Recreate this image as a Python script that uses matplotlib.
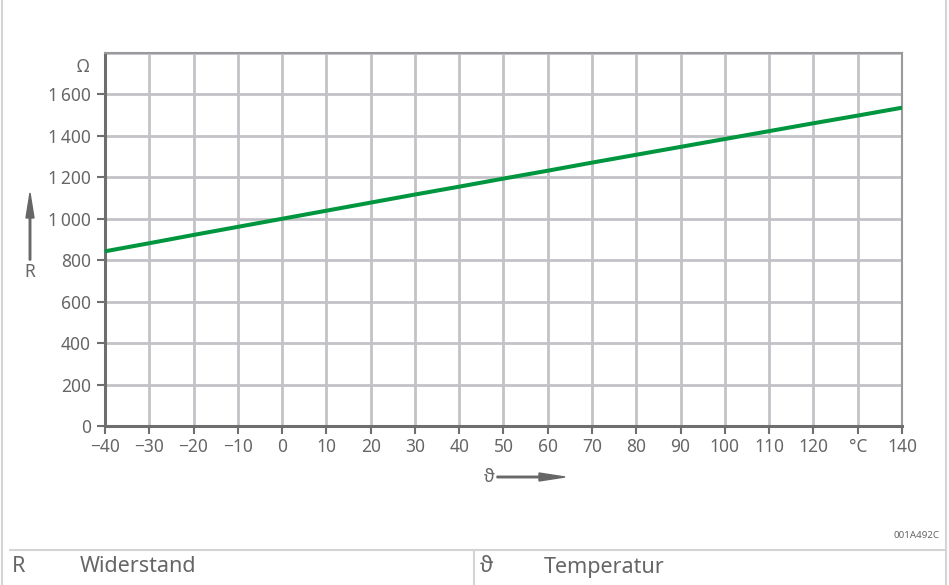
import numpy as np
import matplotlib
matplotlib.use("Agg")
import matplotlib.pyplot as plt

plt.rcParams['font.family'] = ['Noto Sans', 'DejaVu Sans']

# temperature (°C) and resistance (Ohm)
temp = [-40, -30, -20, -10, 0, 10, 20, 30, 40, 50, 60, 70, 80, 90, 100, 110, 120, 130, 140]
resistance = [843, 882, 922, 961, 1000, 1039, 1078, 1117, 1155, 1194, 1232, 1271,
              1309, 1347, 1385, 1423, 1461, 1498, 1536]

xticks = list(range(-40, 141, 10))
xlabels = [("\u2212%d" % -t if t < 0 else str(t)) for t in xticks]
xlabels[xticks.index(130)] = "°C"
yticks = list(range(0, 1601, 200))
ylabels = ["{:,}".format(v).replace(",", "\u2009") for v in yticks]

W, H = 949, 585
fig = plt.figure(figsize=(W / 100, H / 100), dpi=100)

grid_c = "#c3c3c7"
axis_c = "#6e6e6e"
text_c = "#666666"
tick_fs = 12.5

ax = fig.add_axes([105 / W, (H - 426) / H, 797 / W, (426 - 53) / H])
ax.set_xlim(-40, 140)
ax.set_ylim(0, 1800)
ax.set_xticks(xticks)
ax.set_xticklabels(xlabels)
ax.set_yticks(list(range(0, 1801, 200)))
ax.set_yticklabels(ylabels + [""])
ax.grid(True, color=grid_c, linewidth=2)
ax.set_axisbelow(True)
ax.tick_params(direction="out", length=6, width=1.5, color=axis_c,
               labelcolor=text_c, labelsize=tick_fs)
ax.tick_params(axis="x", pad=3)
ax.tick_params(axis="y", pad=4)
for side in ["left", "bottom"]:
    ax.spines[side].set_color(axis_c)
    ax.spines[side].set_linewidth(2.2)
for side in ["top", "right"]:
    ax.spines[side].set_color("#9a9a9e")
    ax.spines[side].set_linewidth(1.5)
# hide tick mark for top (1800) position
ax.yaxis.get_major_ticks()[-1].tick1line.set_visible(False)

ax.plot(temp, resistance, color="#00963f", linewidth=2.9, solid_capstyle="butt", zorder=3)

# unit label
fig.text(83 / W, 1 - 67 / H, "Ω", ha="center", va="center", color=text_c, fontsize=tick_fs)

# axis arrows
fig.patches.append(matplotlib.patches.FancyArrow(
    30 / W, 1 - 260 / H, 0, 67 / H, width=1.5 / W, head_width=8 / W, head_length=25 / H,
    length_includes_head=True, color="#666666", transform=fig.transFigure))
fig.text(30 / W, 1 - 272 / H, "R", ha="center", va="center", color=text_c, fontsize=tick_fs)
fig.text(489 / W, 1 - 477 / H, "ϑ", ha="center", va="center", color=text_c, fontsize=tick_fs)
fig.patches.append(matplotlib.patches.FancyArrow(
    497 / W, 1 - 477 / H, 68 / W, 0, width=1.5 / H, head_width=8 / H, head_length=26 / W,
    length_includes_head=True, color="#666666", transform=fig.transFigure))

fig.text(940 / W, 1 - 535 / H, "001A492C", ha="right", va="center", color=text_c, fontsize=7)

# frame and legend table
frame_c = "#d4d4d4"
fig.add_artist(plt.Line2D([2 / W, 2 / W], [0, 1], color=frame_c, linewidth=1.5))
fig.add_artist(plt.Line2D([946 / W, 946 / W], [0, 1], color=frame_c, linewidth=1.5))
fig.add_artist(plt.Line2D([10 / W, 946 / W], [1 - 550 / H, 1 - 550 / H], color=frame_c, linewidth=1.5))
fig.add_artist(plt.Line2D([474 / W, 474 / W], [0, 1 - 550 / H], color=frame_c, linewidth=1.5))

leg_fs = 15.5
fig.text(12 / W, 1 - 567 / H, "R", ha="left", va="center", color=text_c, fontsize=leg_fs)
fig.text(80 / W, 1 - 567 / H, "Widerstand", ha="left", va="center", color=text_c, fontsize=leg_fs)
fig.text(480 / W, 1 - 567 / H, "ϑ", ha="left", va="center", color=text_c, fontsize=leg_fs)
fig.text(544 / W, 1 - 567 / H, "Temperatur", ha="left", va="center", color=text_c, fontsize=leg_fs)

plt.savefig("out.png", dpi=100)
